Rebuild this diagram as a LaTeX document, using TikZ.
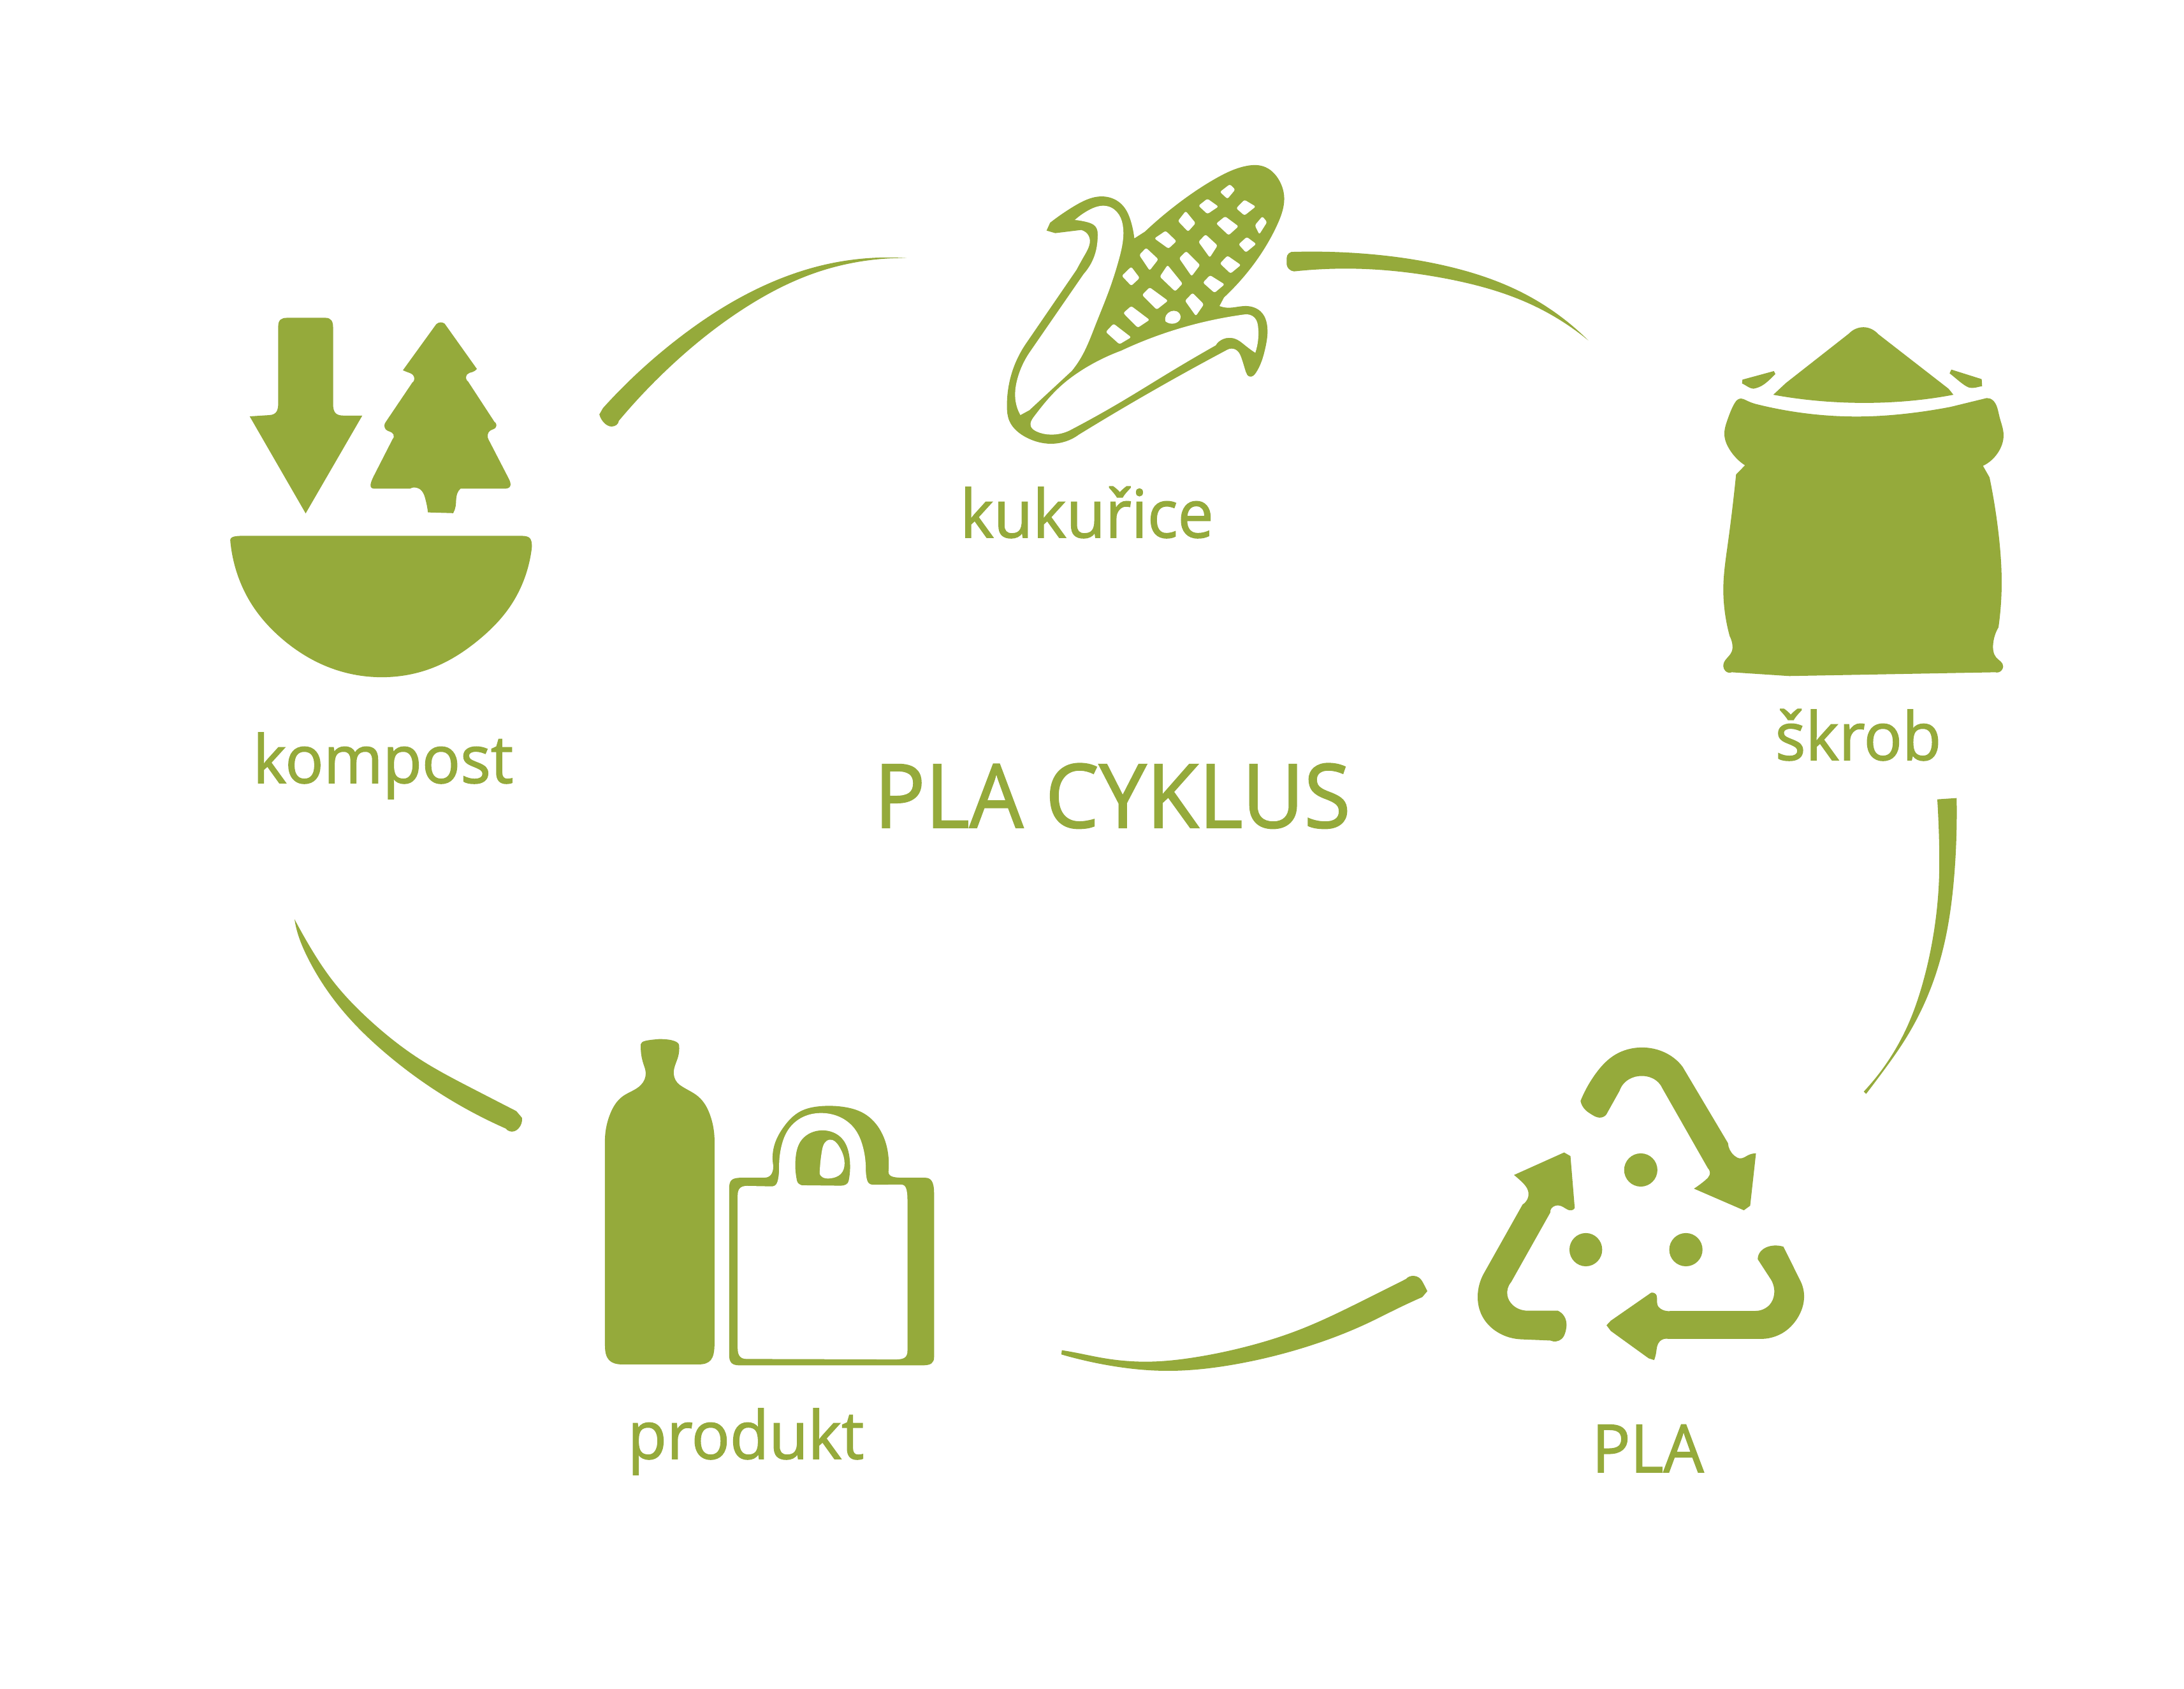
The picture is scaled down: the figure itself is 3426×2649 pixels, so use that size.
\documentclass[tikz,border=0pt]{standalone}
\usepackage{fontspec}
\setmainfont{Open Sans}
\usetikzlibrary{positioning,hobby}
\definecolor{plagreen}{HTML}{95AA3B}
\tikzstyle{icon}=[fill=plagreen]
\tikzstyle{hole}=[fill=white]
\tikzstyle{soft}=[hobby]
\tikzstyle{step label}=[text=plagreen,inner sep=0pt,anchor=base,xscale=.96,font=\fontsize{29.6pt}{32pt}\selectfont\addfontfeature{FakeBold=1.5}]
\tikzstyle{cycle title}=[text=plagreen,inner sep=0pt,anchor=base,xscale=.96,font=\fontsize{39.5pt}{42pt}\selectfont\addfontfeature{FakeBold=1.5}]
\newcommand{\newLabel}[3]{\node[step label](#1) at (#3) {#2};}
\begin{document}
\begin{tikzpicture}[x=.01cm,y=-.01cm]
  \useasboundingbox (0,0) rectangle (3426,2649);
  \fill[white] (0,0) rectangle (3426,2649);

  \node[cycle title](title) at (1745,1298) {PLA CYKLUS};
  \newLabel{kukurice}{kukuřice}{1705,843}
  \newLabel{skrob}{škrob}{2915,1192}
  \newLabel{pla}{PLA}{2585,2309}
  \newLabel{produkt}{produkt}{1170,2288}
  \newLabel{kompost}{kompost}{601,1228}

  % kompost
  \begin{scope}[shift={(340,470)},xscale=.3444,yscale=.3953]
    \fill[icon] (150,463) -- (240,458) .. controls (272,456) and (280,440) .. (280,410) -- (280,105)
      .. controls (280,80) and (295,72) .. (320,72) -- (495,72) .. controls (520,72) and (530,85) .. (530,110)
      -- (530,415) .. controls (530,450) and (545,460) .. (580,460) -- (663,460) -- (405,848) -- cycle;
    \fill[icon] (848,280) -- plot[soft] coordinates {(1000,97) (1020,90) (1038,95)} -- (1185,275)
      -- plot[soft] coordinates {(1185,275) (1165,287) (1140,297) (1145,325)}
      -- plot[soft] coordinates {(1265,485) (1272,505) (1245,520) (1238,555)}
      -- (1330,710) .. controls (1345,735) and (1340,750) .. (1310,750)
      -- plot[soft] coordinates {(1110,750) (1095,770) (1088,820) (1077,847)}
      -- plot[soft] coordinates {(962,844) (950,790) (935,760) (880,750)}
      -- (720,750) .. controls (695,750) and (695,735) .. (715,700)
      -- plot[soft] coordinates {(800,555) (805,535) (770,515) (770,485)}
      -- plot[soft] coordinates {(890,330) (898,305) (870,288) (848,280)} -- cycle;
    \fill[icon] (62,960) .. controls (58,942) and (75,937) .. (120,937) -- (1385,937) .. controls (1425,937) and (1437,945) .. (1435,985)
      -- plot[soft] coordinates {(1435,985) (1400,1110) (1330,1225) (1200,1345) (1000,1455) (750,1498) (500,1455) (290,1340) (160,1210) (85,1065) (62,960)} -- cycle;
  \end{scope}

  % kukurice
  \begin{scope}[shift={(1500,220)},xscale=.37,yscale=.3333]
    \fill[icon] (383,425) -- plot[soft] coordinates {(398,388) (500,310) (630,265) (700,300) (740,380) (755,462)}
      -- plot[soft] coordinates {(800,430) (950,290) (1100,180) (1225,122) (1300,122) (1370,190) (1390,260) (1360,400) (1270,570) (1135,740)} -- (1116,780)
      -- plot[soft] coordinates {(1116,780) (1150,788) (1230,780) (1290,805) (1318,870) (1310,980) (1270,1095) (1245,1112) (1228,1090) (1208,1020) (1185,985) (1150,985)}
      -- plot[soft] coordinates {(1150,985) (1000,1075) (800,1200) (520,1385)}
      -- plot[soft] coordinates {(520,1385) (400,1428) (300,1400) (225,1320) (215,1250) (240,1080) (300,950)}
      -- plot[soft] coordinates {(510,610) (545,540) (562,450) (530,422)}
      -- plot[soft] coordinates {(420,437) (383,425)} -- cycle;
    \fill[hole] plot[soft] coordinates {(503,375) (560,330) (640,310) (690,350) (708,415) (690,560) (650,700) (590,870) (525,1030) (490,1085)}
      -- (310,1270) -- plot[soft] coordinates {(310,1270) (272,1293)}
      -- plot[soft] coordinates {(272,1293) (252,1230) (260,1120) (310,1000)}
      -- plot[soft] coordinates {(540,630) (590,530) (600,450) (590,405) (555,385) (503,375)} -- cycle;
    \fill[hole] plot[soft] coordinates {(1268,1000) (1280,880) (1265,835) (1220,820)}
      -- plot[soft] coordinates {(1220,820) (1050,855) (700,990)}
      -- plot[soft] coordinates {(700,990) (550,1070) (440,1160) (330,1300) (316,1345) (340,1370) (400,1385) (490,1360)}
      -- plot[soft] coordinates {(490,1360) (700,1230) (900,1095) (1100,965)}
      -- plot[soft] coordinates {(1100,965) (1180,933) (1225,965) (1268,1000)} -- cycle;
    \foreach \a/\b/\c/\d/\e/\f/\g/\h in {1118/243/1160/207/1183/232/1150/276,
      1027/308/1065/275/1112/312/1065/347, 1187/320/1222/280/1270/312/1222/354,
      1298/358/1318/385/1285/443/1266/400, 973/333/1015/390/983/430/940/380,
      1102/392/1140/358/1197/405/1155/447, 840/462/888/426/934/475/900/510,
      1057/443/1108/495/1075/552/1027/478, 1197/490/1232/455/1272/488/1228/528,
      805/506/857/560/820/613/776/540, 975/522/1034/587/998/640/945/555,
      1118/580/1150/543/1207/587/1163/627, 742/595/778/648/742/685/702/638,
      896/587/960/675/928/711/863/642, 1076/635/1138/678/1095/718/1046/670,
      820/692/898/755/850/797/788/728, 1002/718/1050/772/1016/827/970/755,
      742/780/820/845/770/882/708/813, 667/863/742/927/692/960/634/902}
      \fill[hole,rounded corners=.8pt] (\a,\b) -- (\c,\d) -- (\e,\f) -- (\g,\h) -- cycle;
    \fill[hole] plot[soft] coordinates {(887,852) (910,805) (935,805) (950,840) (925,862) (887,852)} -- cycle;
  \end{scope}

  % skrob
  \begin{scope}[shift={(2660,480)},xscale=.3333,yscale=.3953]
    \fill[icon] (365,352) -- (425,305) -- (720,110) .. controls (760,75) and (820,75) .. (860,112) -- (1190,328) -- (1213,352)
      .. controls (950,395) and (640,395) .. (365,352) -- cycle;
    \fill[icon] (220,292) -- (368,258) -- (375,270) .. controls (330,308) and (310,322) .. (272,328) .. controls (255,328) and (240,316) .. (218,307) -- cycle;
    \fill[icon] (1203,252) -- (1346,290) -- (1348,318) .. controls (1320,322) and (1310,328) .. (1285,323) .. controls (1260,315) and (1230,290) .. (1195,267) -- cycle;
    \fill[icon] plot[soft] coordinates {(232,632) (160,570) (135,510) (150,450) (180,390) (205,368) (240,375) (280,388)}
      -- plot[soft] coordinates {(280,388) (540,428) (800,438) (1010,425) (1200,400)}
      -- plot[soft] coordinates {(1370,365) (1400,375) (1430,440) (1449,510) (1420,585) (1352,634)} -- (1383,680)
      -- plot[soft] coordinates {(1383,680) (1425,900) (1440,1100) (1425,1275)}
      -- plot[soft] coordinates {(1425,1275) (1400,1340) (1415,1395) (1447,1430) (1440,1445) (1410,1453)}
      -- (440,1468) -- plot[soft] coordinates {(170,1453) (140,1448) (130,1430) (170,1370) (172,1340) (160,1310)}
      -- plot[soft] coordinates {(160,1310) (135,1200) (130,1120) (150,950) (190,668)} -- cycle;
  \end{scope}

  % pla
  \begin{scope}[shift={(2250,1600)},xscale=.3954,yscale=.3571]
    \fill[icon] plot[soft] coordinates {(580,355) (640,235) (720,150) (820,120) (920,145) (985,205)}
      -- plot[soft] coordinates {(1165,540) (1190,595) (1215,607) (1245,593) (1276,585)}
      -- (1253,815) -- (1228,835) -- plot[soft] coordinates {(1030,740) (1075,703) (1092,680) (1085,650)}
      -- plot[soft] coordinates {(905,300) (865,255) (820,245) (775,258) (735,310)}
      -- plot[soft] coordinates {(682,415) (655,428) (625,415) (600,395) (580,355)} -- cycle;
    \fill[icon] (316,680) -- (515,581) -- (540,597) -- (557,825)
      -- plot[soft] coordinates {(557,825) (545,835) (510,820) (480,815) (460,845)}
      -- plot[soft] coordinates {(305,1150) (290,1210) (310,1250) (370,1276)}
      -- plot[soft] coordinates {(490,1276) (515,1300) (520,1370) (505,1400) (460,1407)}
      -- plot[soft] coordinates {(350,1402) (250,1370) (190,1300) (172,1210) (195,1115)}
      -- plot[soft] coordinates {(350,810) (372,750) (345,708) (316,680)} -- cycle;
    \fill[icon] plot[soft] coordinates {(683,1340) (700,1320)}
      -- plot[soft] coordinates {(860,1197) (875,1200) (885,1250) (905,1272) (940,1277)}
      -- plot[soft] coordinates {(1270,1277) (1330,1250) (1348,1205) (1330,1130)}
      -- plot[soft] coordinates {(1283,1050) (1295,1015) (1345,990) (1385,995)}
      -- plot[soft] coordinates {(1450,1140) (1467,1210) (1440,1310) (1380,1375) (1290,1400)}
      -- plot[soft] coordinates {(930,1400) (895,1410) (880,1460) (872,1493)}
      -- (850,1485) -- plot[soft] coordinates {(700,1365) (683,1340)} -- cycle;
    \fill[icon] (819,658) ellipse [x radius=66,y radius=73];
    \fill[icon] (601,1008) ellipse [x radius=65,y radius=73];
    \fill[icon] (998,1008) ellipse [x radius=66,y radius=73];
  \end{scope}

  % produkt
  \begin{scope}[shift={(900,1600)},xscale=.3827,yscale=.3571]
    \fill[icon] plot[soft] coordinates {(128,520) (150,410) (200,335) (275,285) (295,230) (285,190) (275,105)}
      .. controls (278,92) and (295,88) .. (350,83) .. controls (405,83) and (432,95) .. (432,112)
      -- plot[soft] coordinates {(432,112) (428,160) (410,225) (425,275) (445,292) (510,335) (560,420) (577,520)}
      -- (577,1420) .. controls (577,1490) and (560,1512) .. (510,1512) -- (200,1512) .. controls (150,1512) and (128,1490) .. (128,1430) -- cycle;
    \fill[icon] (637,740) .. controls (637,700) and (650,692) .. (690,692) -- (780,692) .. controls (805,692) and (818,675) .. (818,640)
      -- plot[soft] coordinates {(818,640) (825,540) (860,470) (930,400) (1010,378) (1100,380) (1190,410) (1260,490) (1290,600) (1290,665)}
      .. controls (1290,685) and (1305,692) .. (1350,692) -- (1440,692) .. controls (1465,692) and (1477,710) .. (1477,760)
      -- (1477,1480) .. controls (1477,1505) and (1465,1516) .. (1430,1516) -- (680,1516) .. controls (650,1516) and (637,1505) .. (637,1470) -- cycle;
    \fill[hole] (672,770) .. controls (672,740) and (685,728) .. (710,728) -- (810,730) .. controls (830,730) and (838,720) .. (842,660)
      -- plot[soft] coordinates {(842,660) (850,560) (880,480) (940,425) (1020,408) (1090,425) (1150,475) (1185,555) (1197,660)}
      .. controls (1200,710) and (1205,723) .. (1230,723) -- (1340,722) .. controls (1362,722) and (1368,740) .. (1368,800)
      -- (1368,1450) .. controls (1368,1480) and (1355,1490) .. (1320,1490) -- (710,1488) .. controls (685,1488) and (672,1475) .. (672,1440) -- cycle;
    \fill[icon] plot[soft] coordinates {(915,705) (910,600) (935,525) (1020,484) (1095,515) (1130,600) (1127,705)}
      .. controls (1125,720) and (1110,727) .. (1095,727) -- (935,725) .. controls (925,722) and (917,715) .. (915,705) -- cycle;
    \fill[hole] plot[soft] coordinates {(1008,675) (1018,570) (1050,525) (1085,550) (1110,630) (1095,675) (1050,695) (1020,690) (1008,675)} -- cycle;
  \end{scope}

  % swooshes between the steps
  \begin{scope}[shift={(900,370)},xscale=.3827,yscale=.3333]
    \coordinate (kompostTail) at (105,840);
    \coordinate (kukuriceTip) at (1365,104);
    \fill[icon] (kompostTail) -- plot[soft] coordinates {(120,810) (420,490) (750,250) (1050,130) (1365,104)}
      -- plot[soft] coordinates {(1365,104) (1000,170) (700,340) (400,610) (185,870)}
      -- plot[soft] coordinates {(185,870) (155,897) (125,880) (105,840)} -- cycle;
  \end{scope}
  \begin{scope}[shift={(2000,370)},xscale=.3333,yscale=.3333]
    \coordinate (kukuriceTail) at (55,125);
    \coordinate (skrobTip) at (1475,492);
    \fill[icon] (kukuriceTail) -- plot[soft] coordinates {(55,105) (65,82) (90,75)}
      -- plot[soft] coordinates {(90,75) (400,82) (800,140) (1150,260) (1475,492)}
      -- plot[soft] coordinates {(1475,492) (1200,320) (800,200) (400,155) (90,167)}
      -- plot[soft] coordinates {(90,167) (65,155) (55,125)} -- cycle;
  \end{scope}
  \begin{scope}[shift={(2900,1230)},xscale=.3333,yscale=.3333]
    \coordinate (skrobTail) at (417,71);
    \coordinate (plaTip) at (76,1452);
    \fill[icon] (skrobTail) -- (508,65) -- plot[soft] coordinates {(508,65) (508,200) (495,450) (450,750) (370,1000) (260,1210) (170,1340) (82,1457)}
      -- plot[soft] coordinates {(71,1446) (180,1310) (280,1130) (350,930) (400,700) (425,450) (425,250) (417,71)} -- cycle;
  \end{scope}
  \begin{scope}[shift={(1640,1970)},xscale=.3954,yscale=.3333]
    \coordinate (plaTail) at (1515,165);
    \coordinate (produktTip) at (64,453);
    \fill[icon] (plaTail) -- plot[soft] coordinates {(1515,165) (1500,130) (1480,100) (1460,93) (1430,108)}
      -- plot[soft] coordinates {(1430,108) (1250,215) (1000,350) (800,425) (600,475) (400,497) (230,480) (100,450) (65,443)}
      -- plot[soft] coordinates {(63,463) (230,510) (480,540) (750,510) (1000,440) (1280,315) (1400,245) (1495,193)}
      -- plot[soft] coordinates {(1495,193) (1515,165)} -- cycle;
  \end{scope}
  \begin{scope}[shift={(440,1420)},xscale=.3333,yscale=.3333]
    \coordinate (produktTail) at (1137,1000);
    \coordinate (kompostTip) at (66,65);
    \fill[icon] (produktTail) -- plot[soft] coordinates {(1137,1000) (1120,1050) (1100,1063) (1060,1050)}
      -- plot[soft] coordinates {(1060,1050) (800,915) (500,700) (280,480) (130,250) (75,110) (66,65)}
      -- plot[soft] coordinates {(66,65) (130,180) (250,360) (420,540) (650,720) (900,860) (1110,968)}
      -- plot[soft] coordinates {(1110,968) (1137,1000)} -- cycle;
  \end{scope}
\end{tikzpicture}
\end{document}
